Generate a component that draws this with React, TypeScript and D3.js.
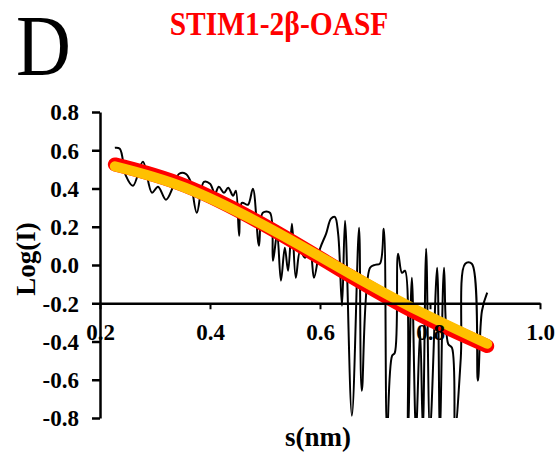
import { useRef, useEffect } from 'react';
import * as d3 from 'd3';

// scattering data
const S_VALUES = [
  0.227, 0.236, 0.247, 0.26, 0.278, 0.2945, 0.3055, 0.32, 0.333, 0.344,
  0.356, 0.364, 0.376, 0.389, 0.4, 0.409, 0.416, 0.4255, 0.433, 0.442,
  0.447, 0.453, 0.458, 0.469, 0.478, 0.489, 0.496, 0.509, 0.5145, 0.522,
  0.529, 0.536, 0.542, 0.549, 0.556, 0.564, 0.573, 0.582, 0.589, 0.6,
  0.611, 0.62, 0.627, 0.633, 0.64, 0.6455, 0.658, 0.671, 0.676, 0.691,
  0.7, 0.709, 0.716, 0.722, 0.731, 0.736, 0.742, 0.749, 0.7545, 0.76,
  0.767, 0.7745, 0.782, 0.787, 0.793, 0.8, 0.813, 0.818, 0.8255, 0.833,
  0.84, 0.8455, 0.856, 0.864, 0.876, 0.887, 0.8945, 0.904,
];
const LOGI_VALUES = [
  0.613, 0.608, 0.467, 0.414, 0.54, 0.378, 0.409, 0.341, 0.409, 0.477,
  0.477, 0.441, 0.273, 0.435, 0.425, 0.373, 0.409, 0.378, 0.404, 0.362,
  0.388, 0.153, 0.325, 0.315, 0.399, 0.101, 0.273, 0.273, 0.022, 0.163,
  -0.082, 0.09, -0.03, 0.216, -0.067, 0.075, 0.038, 0.075, -0.067, 0.085,
  0.163, 0.242, 0.252, 0.163, -0.213, 0.231, -0.788, 0.195, -0.658, -0.014,
  0.001, 0.007, 0.19, -0.867, -0.475, -0.459, 0.059, -0.041, -0.03, -0.867,
  -0.067, -0.867, -0.344, -0.867, 0.085, -0.867, -0.014, -0.867, -0.014, -0.412,
  -0.433, -0.867, -0.485, 0.007, 0.007, -0.605, -0.239, -0.145,
];

// fitted curves
const FIT_S = [0.227, 0.355, 0.509, 0.655, 0.782, 0.904];
const FIT_RED = [0.526, 0.414, 0.192, -0.058, -0.262, -0.424];
const FIT_ORANGE = [0.516, 0.404, 0.19, -0.046, -0.244, -0.412];

const X_TICKS = [0.2, 0.4, 0.6, 0.8, 1.0];
const Y_TICKS = [-0.8, -0.6, -0.4, -0.2, 0.0, 0.2, 0.4, 0.6, 0.8];

const TITLE = 'STIM1-2β-OASF';
const PANEL = 'D';

export default function App() {
  const svgRef = useRef<SVGSVGElement | null>(null);
  const width = 559;
  const height = 453;
  const font = '"Liberation Serif", "Times New Roman", serif';

  useEffect(() => {
    if (!svgRef.current) return;
    const svg = d3.select(svgRef.current);
    svg.selectAll('*').remove();

    const x = d3.scaleLinear().domain([0.2, 1.0]).range([100, 540]);
    const y = d3.scaleLinear().domain([-0.8, 0.8]).range([418, 112]);

    svg.append('defs')
      .append('clipPath')
      .attr('id', 'plot-clip')
      .append('rect')
      .attr('x', x(0.2))
      .attr('y', 0)
      .attr('width', x(1.0) - x(0.2))
      .attr('height', y(-0.8));

    // panel letter + title
    svg.append('text')
      .attr('transform', 'translate(16,75) scale(1,1.13)')
      .attr('font-family', font)
      .attr('font-size', 76)
      .attr('fill', '#000')
      .text(PANEL);

    svg.append('text')
      .attr('transform', 'translate(279,35) scale(1,1.12)')
      .attr('text-anchor', 'middle')
      .attr('font-family', font)
      .attr('font-weight', 'bold')
      .attr('font-size', 29.5)
      .attr('fill', '#ff0000')
      .text(TITLE);

    // noisy data
    const pts: [number, number][] = S_VALUES.map((s, i) => [s, LOGI_VALUES[i]]);
    const dataLine = d3.line<[number, number]>()
      .x((d) => x(d[0]))
      .y((d) => y(d[1]))
      .curve(d3.curveCatmullRom.alpha(0.5));

    svg.append('path')
      .datum(pts)
      .attr('clip-path', 'url(#plot-clip)')
      .attr('fill', 'none')
      .attr('stroke', '#000')
      .attr('stroke-width', 2)
      .attr('stroke-linejoin', 'round')
      .attr('d', dataLine);

    // fits
    const fitLine = d3.line<[number, number]>()
      .x((d) => x(d[0]))
      .y((d) => y(d[1]))
      .curve(d3.curveNatural);

    svg.append('path')
      .datum(FIT_S.map((s, i) => [s, FIT_RED[i]] as [number, number]))
      .attr('fill', 'none')
      .attr('stroke', '#ff0000')
      .attr('stroke-width', 14)
      .attr('stroke-linecap', 'round')
      .attr('d', fitLine);

    svg.append('path')
      .datum(FIT_S.map((s, i) => [s, FIT_ORANGE[i]] as [number, number]))
      .attr('fill', 'none')
      .attr('stroke', '#ffc000')
      .attr('stroke-width', 10)
      .attr('stroke-linecap', 'round')
      .attr('d', fitLine);

    const fmt = (d: d3.NumberValue) => (+d).toFixed(1);

    // y axis
    svg.append('g')
      .attr('transform', `translate(${x(0.2)},0)`)
      .call(d3.axisLeft(y).tickValues(Y_TICKS).tickSize(8).tickSizeOuter(0).tickFormat(fmt))
      .call((g) => {
        g.select('.domain').attr('stroke', '#000').attr('stroke-width', 2.5);
        g.selectAll('.tick line').attr('stroke', '#000').attr('stroke-width', 2.5);
        g.selectAll('.tick text')
          .attr('x', -21)
          .attr('dy', '0.34em')
          .attr('fill', '#000')
          .attr('font-family', font)
          .attr('font-weight', 'bold')
          .attr('font-size', 23);
      });

    // x axis, crossing at -0.2
    svg.append('g')
      .attr('transform', `translate(0,${y(-0.2)})`)
      .call(d3.axisBottom(x).tickValues(X_TICKS).tickSize(6).tickSizeOuter(0).tickFormat(fmt))
      .call((g) => {
        g.select('.domain').attr('stroke', '#000').attr('stroke-width', 2.5);
        g.selectAll('.tick line').attr('stroke', '#000').attr('stroke-width', 2);
        g.selectAll('.tick text')
          .attr('y', 37)
          .attr('dy', 0)
          .attr('fill', '#000')
          .attr('font-family', font)
          .attr('font-weight', 'bold')
          .attr('font-size', 23);
      });

    // axis titles
    svg.append('text')
      .attr('transform', 'translate(35,259) rotate(-90)')
      .attr('text-anchor', 'middle')
      .attr('font-family', font)
      .attr('font-weight', 'bold')
      .attr('font-size', 27)
      .attr('fill', '#000')
      .text('Log(I)');

    svg.append('text')
      .attr('x', 318)
      .attr('y', 446)
      .attr('text-anchor', 'middle')
      .attr('font-family', font)
      .attr('font-weight', 'bold')
      .attr('font-size', 27)
      .attr('fill', '#000')
      .text('s(nm)');
  }, []);

  return (
    <svg
      ref={svgRef}
      width={width}
      height={height}
      style={{ position: 'absolute', left: 0, top: 0, background: '#fff', display: 'block' }}
    />
  );
}
